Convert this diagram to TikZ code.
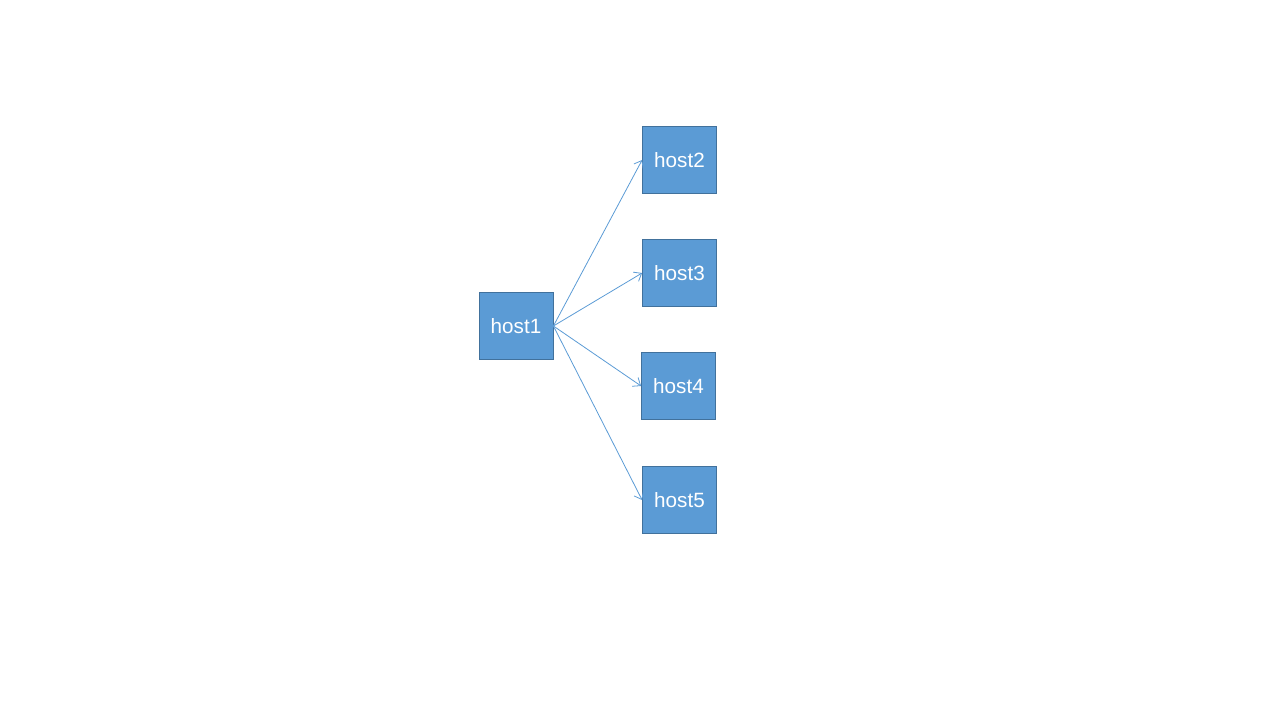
\documentclass[tikz,border=0pt]{standalone}
\usepackage{fontspec}
\setmainfont{Liberation Sans}
\usepackage{xcolor}
\usetikzlibrary{arrows.meta}

\definecolor{hostfill}{HTML}{5B9BD5}
\definecolor{hostline}{HTML}{41719C}

\begin{document}
\begin{tikzpicture}[x=0.75pt,y=-0.75pt]

\tikzset{
    box/.style = {
    minimum height=50.5pt,
    minimum width = 55.5pt,
    inner sep=0pt
    }
}

\tikzstyle{host}=[draw=hostline, line width=0.6pt, fill=hostfill, text=white, font=\fontsize{15.5}{18}\selectfont, box]
\tikzstyle{link}=[draw=hostfill, line width=0.6pt, -{Straight Barb[length=5pt,width=8pt]}]

\useasboundingbox (0,0) rectangle (1280,720);

\node (h-1) [host] at (516,326) {host1};
\node (h-2) [host] at (679.5,160) {host2};
\node (h-3) [host] at (679.5,273) {host3};
\node (h-4) [host] at (678.5,386) {host4};
\node (h-5) [host] at (679.5,500) {host5};

\draw [link] (h-1.east) -- (h-2.west);
\draw [link] (h-1.east) -- (h-3.west);
\draw [link] (h-1.east) -- (h-4.west);
\draw [link] (h-1.east) -- (h-5.west);

\end{tikzpicture}
\end{document}
